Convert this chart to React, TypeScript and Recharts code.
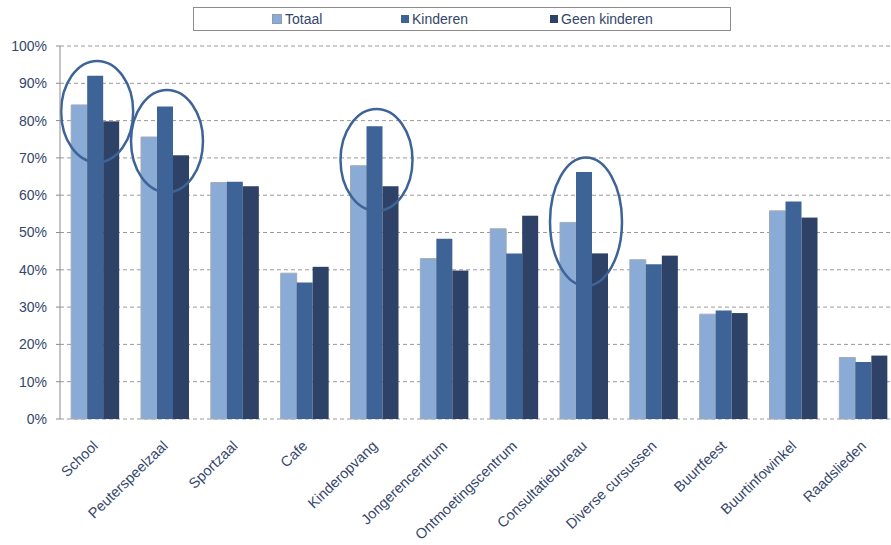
import React from "react"
import { BarChart, Bar, XAxis, YAxis, CartesianGrid, Legend } from "recharts"

// Voorzieningen per huishoudtype (percentages)
const categories = [
  "School",
  "Peuterspeelzaal",
  "Sportzaal",
  "Cafe",
  "Kinderopvang",
  "Jongerencentrum",
  "Ontmoetingscentrum",
  "Consultatiebureau",
  "Diverse cursussen",
  "Buurtfeest",
  "Buurtinfowinkel",
  "Raadslieden",
]
const totaal = [84.2, 75.6, 63.4, 39.1, 67.9, 43.0, 51.0, 52.7, 42.7, 28.1, 55.8, 16.5]
const kinderen = [92.0, 83.8, 63.6, 36.6, 78.5, 48.3, 44.4, 66.2, 41.5, 29.1, 58.3, 15.3]
const geenKinderen = [79.8, 70.7, 62.4, 40.8, 62.4, 39.8, 54.5, 44.4, 43.8, 28.4, 54.0, 17.0]
const yTicks = [0, 10, 20, 30, 40, 50, 60, 70, 80, 90, 100]

// omcirkelde groepen: [categorie, onderkant %, bovenkant %]
const highlights: [string, number, number][] = [
  ["School", 68.8, 96.0],
  ["Peuterspeelzaal", 60.8, 88.2],
  ["Kinderopvang", 55.8, 83.1],
  ["Consultatiebureau", 35.7, 70.1],
]

const data = categories.map((name, i) => ({
  name,
  totaal: totaal[i],
  kinderen: kinderen[i],
  geen: geenKinderen[i],
}))
const edgeTicks = [...categories.map((_, i) => i), categories.length]

const TEXT = "#34466b"
const font = "Liberation Sans, Arial, sans-serif"

const series = [
  { key: "totaal", label: "Totaal", color: "#8aabd6" },
  { key: "kinderen", label: "Kinderen", color: "#3e6497" },
  { key: "geen", label: "Geen kinderen", color: "#2d4266" },
]

function AngledTick(props: any) {
  const { x, y, payload } = props
  const ax = x + 4
  const ay = y + 20
  return (
    <text
      x={ax}
      y={ay}
      textAnchor="end"
      transform={`rotate(-44, ${ax}, ${ay})`}
      fontSize={14.5}
      fontFamily={font}
      fill={TEXT}
    >
      {payload.value}
    </text>
  )
}

// last series draws its bar plus the ellipse around the whole group, so the ring sits on top
function GeenShape(props: any) {
  const { x, y, width, height, fill, payload } = props
  const hl = highlights.find((h) => h[0] === payload.name)
  let ring = null
  if (hl && payload.geen > 0) {
    const k = height / payload.geen
    const base = y + height
    const top = base - hl[2] * k
    const bottom = base - hl[1] * k
    ring = (
      <ellipse
        cx={x + width / 2 - width + 2}
        cy={(top + bottom) / 2}
        rx={width * 2.25}
        ry={(bottom - top) / 2}
        fill="none"
        stroke="#3e6497"
        strokeWidth={2.5}
      />
    )
  }
  return (
    <g>
      <rect x={x} y={y} width={width} height={height} fill={fill} />
      {ring}
    </g>
  )
}

function LegendBox() {
  return (
    <div
      style={{
        position: "absolute",
        left: 193,
        top: 7,
        width: 538,
        height: 24,
        border: "1px solid #8c8c8c",
        boxSizing: "border-box",
        fontFamily: font,
        fontSize: 14,
        color: TEXT,
      }}
    >
      {series.map((s, i) => (
        <span
          key={s.key}
          style={{ position: "absolute", left: [78, 207, 356][i], top: 3, display: "flex", alignItems: "center" }}
        >
          <span
            style={{
              display: "inline-block",
              width: 8,
              height: 8,
              background: s.color,
              border: i === 0 ? "1px solid #8c9bb0" : "none",
              marginRight: 3,
            }}
          />
          {s.label}
        </span>
      ))}
    </div>
  )
}

export default function App() {
  return (
    <div style={{ position: "fixed", left: 0, top: 0, width: 891, height: 545, overflow: "hidden", background: "#fff" }}>
      <BarChart
        width={900}
        height={545}
        data={data}
        margin={{ top: 46, right: 2, left: 0, bottom: 0 }}
        barCategoryGap="16%"
        barGap={0}
      >
        <CartesianGrid vertical={false} stroke="#9a9a9a" strokeDasharray="4 3" />
        <XAxis
          xAxisId="edges"
          type="number"
          dataKey={() => 0}
          domain={[0, categories.length]}
          ticks={edgeTicks}
          height={0}
          tick={false}
          tickLine={{ stroke: "#8c8c8c" }}
          tickSize={5}
          axisLine={{ stroke: "#8c8c8c" }}
        />
        <XAxis
          xAxisId="cat"
          dataKey="name"
          height={126}
          interval={0}
          tickLine={false}
          axisLine={false}
          tick={<AngledTick />}
        />
        <YAxis
          width={60}
          domain={[0, 100]}
          ticks={yTicks}
          tickFormatter={(v) => `${v}%`}
          tick={{ fontSize: 14, fontFamily: font, fill: TEXT }}
          tickSize={4}
          tickMargin={9}
          tickLine={{ stroke: "#8c8c8c" }}
          axisLine={{ stroke: "#8c8c8c" }}
        />
        <Legend content={() => null} />
        <Bar
          xAxisId="cat"
          dataKey="totaal"
          name="Totaal"
          fill={series[0].color}
          stroke="#a3abb5"
          strokeWidth={1}
          isAnimationActive={false}
        />
        <Bar
          xAxisId="cat"
          dataKey="kinderen"
          name="Kinderen"
          fill={series[1].color}
          isAnimationActive={false}
        />
        <Bar
          xAxisId="cat"
          dataKey="geen"
          name="Geen kinderen"
          fill={series[2].color}
          shape={GeenShape}
          isAnimationActive={false}
        />
      </BarChart>
      <LegendBox />
    </div>
  )
}
